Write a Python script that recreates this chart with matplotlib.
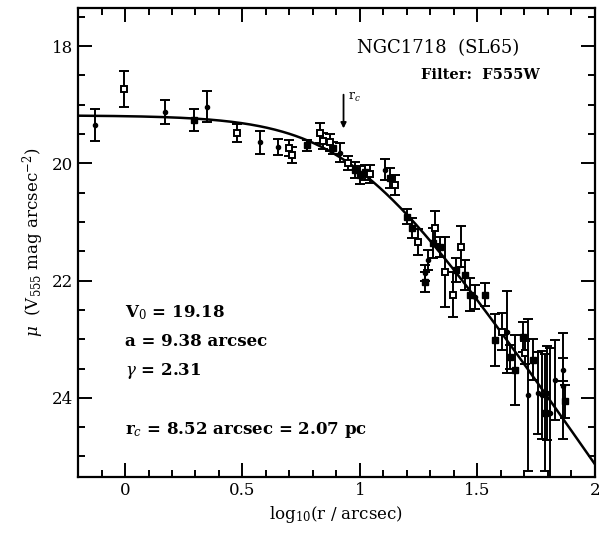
import numpy as np
import matplotlib
matplotlib.use('Agg')
from matplotlib import pyplot as plt
from matplotlib.ticker import MultipleLocator

plt.rcParams['font.family'] = ['DejaVu Serif']
plt.rcParams['mathtext.fontset'] = 'dejavuserif'

# EFF fit parameters
V0 = 19.18
a_fit = 9.38
gamma = 2.31
rc = 8.52

# surface brightness points: log10(r), mu, error
# filled squares
f_x = [0.294, 0.774, 0.885, 0.979, 1.0, 1.021, 1.128, 1.2, 1.221, 1.277, 1.311, 1.34,
       1.409, 1.447, 1.468, 1.532, 1.574, 1.638, 1.66, 1.694, 1.736, 1.787, 1.872]
f_y = [19.26, 19.69, 19.74, 20.11, 20.2, 20.15, 20.25, 20.91, 21.1, 22.02, 21.36, 21.42,
       21.82, 21.9, 22.24, 22.24, 23.01, 23.3, 23.52, 22.96, 23.35, 24.25, 24.06]
f_e = [0.19, 0.09, 0.10, 0.14, 0.15, 0.13, 0.17, 0.13, 0.17, 0.17, 0.26, 0.17,
       0.20, 0.26, 0.28, 0.20, 0.44, 0.20, 0.60, 0.26, 0.35, 1.0, 0.28]
# open squares
o_x = [-0.004, 0.477, 0.698, 0.711, 0.83, 0.843, 0.872, 0.949, 1.043, 1.149, 1.247,
       1.319, 1.362, 1.396, 1.43, 1.604, 1.702]
o_y = [18.73, 19.48, 19.74, 19.86, 19.48, 19.62, 19.64, 19.99, 20.18, 20.37, 21.34,
       21.1, 21.85, 22.24, 21.42, 22.87, 23.23]
o_e = [0.31, 0.15, 0.14, 0.14, 0.17, 0.14, 0.14, 0.12, 0.15, 0.17, 0.22,
       0.28, 0.6, 0.38, 0.35, 0.31, 0.2]
# small dots
d_x = [-0.128, 0.170, 0.349, 0.574, 0.651, 0.915, 1.106, 1.277, 1.289, 1.489, 1.626,
       1.715, 1.757, 1.774, 1.796, 1.809, 1.83, 1.864, 1.864]
d_y = [19.35, 19.12, 19.03, 19.64, 19.72, 19.82, 20.11, 21.87, 21.65, 22.28, 22.87,
       23.95, 23.91, 23.95, 23.91, 24.25, 23.7, 23.52, 23.8]
d_e = [0.27, 0.21, 0.26, 0.2, 0.13, 0.16, 0.18, 0.14, 0.17, 0.2, 0.7,
       1.3, 0.7, 0.75, 0.8, 1.1, 0.68, 0.2, 0.9]

fig = plt.figure(figsize=(6.05, 5.39), dpi=100)
ax = fig.add_axes([0.129, 0.115, 0.854, 0.870])

eb = dict(ecolor='black', elinewidth=1.4, capsize=3.5, capthick=1.4, linestyle='none')
ax.errorbar(f_x, f_y, yerr=f_e, fmt='s', ms=5, mfc='black', mec='black', **eb)
ax.errorbar(o_x, o_y, yerr=o_e, fmt='s', ms=5, mfc='white', mec='black', mew=1.4, **eb)
ax.errorbar(d_x, d_y, yerr=d_e, fmt='o', ms=3, mfc='black', mec='black', **eb)

# fitted profile
lr = np.linspace(-0.2, 2.0, 400)
r = 10 ** lr
mu = V0 + 1.25 * gamma * np.log10(1 + r ** 2 / a_fit ** 2)
ax.plot(lr, mu, color='black', lw=1.8)

# core radius marker
lrc = np.log10(rc)
ax.annotate('', xy=(lrc, 19.45), xytext=(lrc, 18.78),
            arrowprops=dict(arrowstyle='-|>', color='black', lw=1.3,
                            mutation_scale=8))
ax.text(lrc + 0.02, 18.87, r'r$_c$', fontsize=9, ha='left', va='center')

ax.set_xlim(-0.2, 2.0)
ax.set_ylim(25.35, 17.35)

ax.xaxis.set_major_locator(MultipleLocator(0.5))
ax.xaxis.set_minor_locator(MultipleLocator(0.1))
ax.yaxis.set_major_locator(MultipleLocator(2))
ax.yaxis.set_minor_locator(MultipleLocator(0.5))
ax.set_xticks([0, 0.5, 1, 1.5, 2])
ax.set_xticklabels(['0', '0.5', '1', '1.5', '2'])
ax.tick_params(which='both', direction='in', top=True, right=True, width=1.4,
               labelsize=12)
ax.tick_params(which='major', length=10)
ax.tick_params(which='minor', length=5)
for s in ax.spines.values():
    s.set_linewidth(1.6)

ax.set_xlabel(r'log$_{10}$(r / arcsec)', fontsize=12)
ax.set_ylabel(r'$\mu$  (V$_{555}$ mag arcsec$^{-2}$)', fontsize=12, labelpad=4)

ax.text(1.68, 18.03, 'NGC1718  (SL65)', fontsize=13, ha='right', va='center')
ax.text(1.765, 18.49, 'Filter:  F555W', fontsize=10.5, fontweight='bold',
        ha='right', va='center')

kw = dict(fontsize=12, fontweight='bold', ha='left', va='center')
ax.text(0.0, 22.55, r'V$_0$ = %.2f' % V0, **kw)
ax.text(0.0, 23.04, 'a = %.2f arcsec' % a_fit, **kw)
ax.text(0.0, 23.54, r'$\gamma$ = %.2f' % gamma, **kw)
ax.text(0.0, 24.54, r'r$_c$ = %.2f arcsec = 2.07 pc' % rc, **kw)

fig.savefig('out.png', dpi=100)
